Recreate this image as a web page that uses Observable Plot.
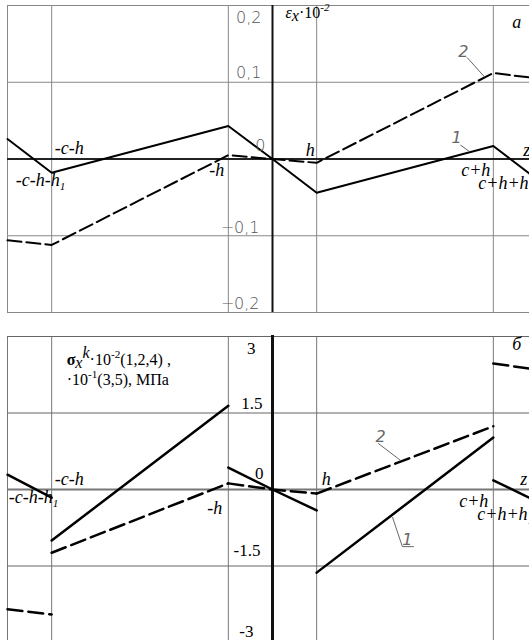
<!DOCTYPE html>
<html>
<head>
<meta charset="utf-8">
<script src="https://cdn.jsdelivr.net/npm/d3@7"></script>
<script src="https://cdn.jsdelivr.net/npm/@observablehq/plot@0.6"></script>
<style>
  html, body { margin: 0; padding: 0; background: white; overflow: hidden; }
  #chart svg { display: block; }
</style>
</head>
<body>
<div id="chart"></div>
<script>
// ---- data ----
const zGrid = [-6, -5, -1, 0, 1, 5, 6];
const strainTicks = [0.2, 0.1, 0, -0.1, -0.2];
const strainTickLabels = ["0,2", "0,1", "0", "−0,1", "−0,2"];
const stressTicks = [3, 1.5, 0, -1.5, -3];
const stressTickLabels = ["3", "1.5", "0", "-1.5", "-3"];

const zNodes = [-6, -5, -1, 0, 1, 5, 6];
const strain1 = [0.026, -0.018, 0.043, 0, -0.044, 0.017, -0.027];
const strain2 = [-0.106, -0.112, 0.005, 0, -0.005, 0.112, 0.105];

const layerZ = [[-6, -5], [-5, -1], [-1, 0, 1], [1, 5], [5, 6]];
const stress1 = [[0.29, -0.16], [-1.0, 1.64], [0.43, 0, -0.41], [-1.63, 1.02], [0.18, -0.24]];
const stress2 = [[-2.35, -2.45], [-1.24, 0.12], [0.12, 0, -0.08], [-0.08, 1.24], [2.47, 2.35]];

// leader lines of curve labels (data units)
const leadTop1 = [[4.26, 0.018], [4.44, 0.0105]];
const leadTop2 = [[4.41, 0.132], [4.80, 0.107]];
const leadBot1 = [[2.72, -0.55], [2.94, -1.12], [3.19, -1.12]];
const leadBot2 = [[2.40, 0.90], [2.90, 0.57]];

// rich text (sub/superscripts): [text, shift(px, + = down), style]
const rich = {
  "-c-h-h1": [["-c-h-h", 0], ["1", 4, "s"]],
  "c+h+h1": [["c+h+h", 0], ["1", 4, "s"]],
  "εx·10-2": [["ε", 0, "i"], ["x", 3, "i"], ["·10", 0, "n"], ["-2", -7, "s"]],
  "σxk·10-2(1,2,4) ,": [["σ", 0, "b"], ["x", 3, "i"], ["k", -7, "i"], ["·10", 0, "n"], ["-2", -7, "s"], ["(1,2,4) ,", 0, "n"]],
  "·10-1(3,5), МПа": [["·10", 0, "n"], ["-1", -7, "s"], ["(3,5), МПа", 0, "n"]]
};

// ---- helpers ----
const SERIF = "'Liberation Serif', 'Times New Roman', serif";
const serifI = {fontFamily: SERIF, fontStyle: "italic", fontSize: 18, fill: "black"};
const serif = {fontFamily: SERIF, fontSize: 17, fill: "black"};
const graySans = {fontFamily: "DejaVu Sans", fontWeight: 200, fontSize: 16, fill: "#555"};
const grayNum = {fontFamily: "DejaVu Sans", fontStyle: "italic", fontWeight: 200, fontSize: 16, fill: "#666"};

function lab(t, x, y, o) {
  return Plot.text([t], {x: () => x, y: () => y, text: d => d, ...o});
}
function pts(arr) { return arr.map(([x, y]) => ({x, y})); }

function richify(svg) {
  svg.querySelectorAll("text").forEach(t => {
    const segs = rich[t.textContent];
    if (!segs) return;
    const fs = parseFloat(t.getAttribute("font-size")) || 16;
    t.textContent = "";
    let cur = 0;
    segs.forEach(([s, shift, st]) => {
      const ts = document.createElementNS("http://www.w3.org/2000/svg", "tspan");
      ts.textContent = s;
      if (shift !== cur) ts.setAttribute("dy", shift - cur);
      cur = shift;
      if (st === "s") ts.setAttribute("font-size", fs * 0.7);
      if (st === "i") ts.setAttribute("font-style", "italic");
      if (st === "n") ts.setAttribute("font-style", "normal");
      if (st === "b") { ts.setAttribute("font-weight", "bold"); ts.setAttribute("font-style", "normal"); }
      t.appendChild(ts);
    });
  });
  return svg;
}

// ---- top panel: strain ----
const topPlot = Plot.plot({
  width: 529, height: 320, margin: 0,
  style: {overflow: "hidden", background: "white"},
  x: {domain: [-6, 6], range: [7, 537], axis: null},
  y: {domain: [-0.2, 0.2], range: [312, 5], axis: null},
  marks: [
    Plot.ruleX(zGrid.filter(z => z !== 0), {x: d => d, y1: -0.2, y2: 0.2, stroke: "#888", strokeWidth: 1}),
    Plot.ruleY(strainTicks.filter(v => v !== 0), {y: d => d, x1: -6, x2: 6, stroke: "#888", strokeWidth: 1}),
    Plot.ruleY([0], {y: d => d, x1: -6, x2: 6, stroke: "#222", strokeWidth: 2}),
    Plot.ruleX([0], {x: d => d, y1: -0.2, y2: 0.2, stroke: "#111", strokeWidth: 2}),
    Plot.line(zNodes.map((z, i) => ({z, v: strain1[i]})), {x: "z", y: "v", stroke: "black", strokeWidth: 2}),
    Plot.line(zNodes.map((z, i) => ({z, v: strain2[i]})), {x: "z", y: "v", stroke: "black", strokeWidth: 2, strokeDasharray: "14,5"}),
    // tick labels
    lab(strainTickLabels[0], 0, strainTicks[0], {...graySans, textAnchor: "end", dx: -11, dy: 12}),
    lab(strainTickLabels[1], 0, strainTicks[1], {...graySans, textAnchor: "end", dx: -11, dy: -9}),
    lab(strainTickLabels[2], 0, strainTicks[2], {...graySans, textAnchor: "end", dx: -7, dy: -13}),
    lab(strainTickLabels[3], 0, strainTicks[3], {...graySans, textAnchor: "end", dx: -13, dy: -8}),
    lab(strainTickLabels[4], 0, strainTicks[4], {...graySans, textAnchor: "end", dx: -13, dy: -9}),
    // axis labels
    lab("-c-h", -5, 0, {...serifI, textAnchor: "start", dx: 3, dy: -11}),
    lab("-c-h-h1", -5, 0, {...serifI, textAnchor: "start", dx: -36, dy: 21}),
    lab("-h", -1, 0, {...serifI, textAnchor: "end", dx: -4, dy: 11}),
    lab("h", 1, 0, {...serifI, textAnchor: "end", dx: -2, dy: -9}),
    lab("z", 5, 0, {...serifI, textAnchor: "start", dx: 30, dy: -9}),
    lab("c+h", 5, 0, {...serifI, textAnchor: "end", dx: -3, dy: 11}),
    lab("c+h+h1", 5, 0, {...serifI, textAnchor: "start", dx: -15, dy: 24}),
    lab("εx·10-2", 0, 0.2, {...serifI, fontSize: 16, textAnchor: "start", dx: 13, dy: 7}),
    lab("a", 5, 0.2, {...serifI, textAnchor: "start", dx: 19, dy: 17}),
    // curve labels
    Plot.line(pts(leadTop1), {x: "x", y: "y", stroke: "#666", strokeWidth: 1}),
    Plot.line(pts(leadTop2), {x: "x", y: "y", stroke: "#666", strokeWidth: 1}),
    lab("1", leadTop1[0][0], leadTop1[0][1], {...grayNum, dx: -4, dy: -7}),
    lab("2", leadTop2[0][0], leadTop2[0][1], {...grayNum, dx: -4, dy: -6})
  ]
});

// ---- bottom panel: stress ----
const seg = arr => layerZ.flatMap((zs, k) => zs.map((z, j) => ({z, v: arr[k][j], layer: k})));
const botPlot = Plot.plot({
  width: 529, height: 320, margin: 0,
  style: {overflow: "hidden", background: "white"},
  x: {domain: [-6, 6], range: [7, 537], axis: null},
  y: {domain: [-3, 3], range: [322, 16], axis: null},
  marks: [
    Plot.ruleX(zGrid.filter(z => z !== 0), {x: d => d, y1: -3.2, y2: 3, stroke: "#777", strokeWidth: 1}),
    Plot.ruleY(stressTicks.filter(v => v !== 0), {y: d => d, x1: -6, x2: 6, stroke: "#666", strokeWidth: 1}),
    Plot.ruleY([0], {y: d => d, x1: -6, x2: 6, stroke: "#777", strokeWidth: 2}),
    Plot.ruleX([0], {x: d => d, y1: -3.2, y2: 3.02, stroke: "#111", strokeWidth: 3}),
    Plot.line(seg(stress1), {x: "z", y: "v", z: "layer", stroke: "black", strokeWidth: 2.5}),
    Plot.line(seg(stress2), {x: "z", y: "v", z: "layer", stroke: "black", strokeWidth: 2.5, strokeDasharray: "15,6"}),
    // tick labels
    lab(stressTickLabels[0], 0, stressTicks[0], {...serif, textAnchor: "end", dx: -17, dy: 12}),
    lab(stressTickLabels[1], 0, stressTicks[1], {...serif, textAnchor: "end", dx: -10, dy: -9}),
    lab(stressTickLabels[2], 0, stressTicks[2], {...serif, textAnchor: "end", dx: -9, dy: -16}),
    lab(stressTickLabels[3], 0, stressTicks[3], {...serif, textAnchor: "end", dx: -12, dy: -15}),
    lab(stressTickLabels[4], 0, stressTicks[4], {...serif, textAnchor: "end", dx: -19, dy: -11}),
    // axis labels
    lab("-c-h", -5, 0, {...serifI, textAnchor: "start", dx: 3, dy: -10}),
    lab("-c-h-h1", -5, 0, {...serifI, textAnchor: "start", dx: -43, dy: 8}),
    lab("-h", -1, 0, {...serifI, textAnchor: "end", dx: -6, dy: 19}),
    lab("h", 1, 0, {...serifI, textAnchor: "start", dx: 5, dy: -10}),
    lab("z", 5, 0, {...serifI, textAnchor: "start", dx: 27, dy: -10}),
    lab("c+h", 5, 0, {...serifI, textAnchor: "end", dx: -5, dy: 12}),
    lab("c+h+h1", 5, 0, {...serifI, textAnchor: "start", dx: -16, dy: 25}),
    lab("σxk·10-2(1,2,4) ,", -5, 3, {...serif, fontSize: 16, textAnchor: "start", dx: 15, dy: 23}),
    lab("·10-1(3,5), МПа", -5, 3, {...serif, fontSize: 16, textAnchor: "start", dx: 15, dy: 43}),
    lab("б", 5, 3, {...serifI, textAnchor: "start", dx: 19, dy: 8}),
    // curve labels
    Plot.line(pts(leadBot1), {x: "x", y: "y", stroke: "#666", strokeWidth: 1}),
    Plot.line(pts(leadBot2), {x: "x", y: "y", stroke: "#666", strokeWidth: 1}),
    lab("1", leadBot1[1][0], leadBot1[1][1], {...grayNum, dx: 5, dy: -7}),
    lab("2", leadBot2[0][0], leadBot2[0][1], {...grayNum, dx: 2, dy: -7})
  ]
});

const chart = document.getElementById("chart");
chart.appendChild(richify(topPlot));
chart.appendChild(richify(botPlot));
</script>
</body>
</html>
